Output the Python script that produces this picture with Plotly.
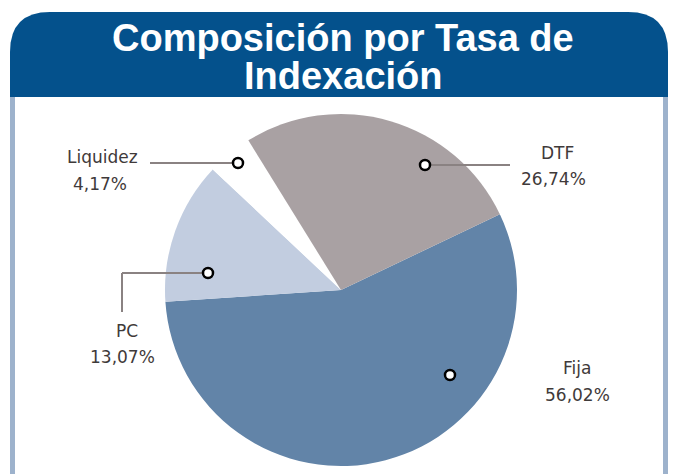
import plotly.graph_objects as go

# ---- data ----
categories = ["Fija", "PC", "Liquidez", "DTF"]
values = [56.02, 13.07, 4.17, 26.74]
value_labels = ["56,02%", "13,07%", "4,17%", "26,74%"]
slice_colors = ["#6284a8", "#c2cde0", "#ffffff", "#a9a1a3"]
title_lines = ["Composición por Tasa de", "Indexación"]

W, H = 678, 474

def px(x):
    return x / W

def py(y):
    return 1 - y / H

cx, cy, R = 341, 290, 176

fig = go.Figure()
fig.add_trace(go.Pie(
    labels=categories,
    values=values,
    sort=False,
    direction="clockwise",
    rotation=64.5,
    textinfo="none",
    hoverinfo="label+percent",
    marker=dict(colors=slice_colors, line=dict(width=0)),
    domain=dict(x=[px(cx - R), px(cx + R)], y=[py(cy + R), py(cy - R)]),
    showlegend=False,
))

shapes = []
bar_col = "#9db2cc"
shapes.append(dict(type="rect", xref="paper", yref="paper", x0=px(10), x1=px(15), y0=0, y1=py(96),
                   fillcolor=bar_col, line=dict(width=0), layer="below"))
shapes.append(dict(type="rect", xref="paper", yref="paper", x0=px(663), x1=px(668), y0=0, y1=py(96),
                   fillcolor=bar_col, line=dict(width=0), layer="below"))

L, Rr, T, B, rad = 10, 668, 12, 97, 40
def P(x, y):
    return f"{px(x):.5f},{py(y):.5f}"
path = (f"M {P(L, B)} L {P(L, T + rad)} Q {P(L, T)} {P(L + rad, T)} "
        f"L {P(Rr - rad, T)} Q {P(Rr, T)} {P(Rr, T + rad)} L {P(Rr, B)} Z")
shapes.append(dict(type="path", xref="paper", yref="paper", path=path,
                   fillcolor="#04518c", line=dict(width=0), layer="below"))

line_col = "#8a8282"
def seg(x0, y0, x1, y1):
    shapes.append(dict(type="line", xref="paper", yref="paper", x0=px(x0), y0=py(y0), x1=px(x1), y1=py(y1),
                       line=dict(color=line_col, width=2)))

seg(150, 163, 232, 163)   # Liquidez
seg(431, 165, 510, 165)   # DTF
seg(202, 273, 122, 273)   # PC horizontal
seg(122, 273, 122, 312)   # PC vertical

for (x, y) in [(238, 163), (425, 165), (208, 273), (450, 375)]:
    r = 5
    shapes.append(dict(type="circle", xref="paper", yref="paper", x0=px(x - r), x1=px(x + r),
                       y0=py(y + r), y1=py(y - r), fillcolor="white", line=dict(color="black", width=2.5)))

title_font = dict(family="Liberation Sans, Arial", size=38, color="white")
annotations = [
    dict(text=f"<b>{title_lines[0]}</b>", x=px(343), y=py(38), xref="paper", yref="paper",
         showarrow=False, font=title_font, xanchor="center", yanchor="middle"),
    dict(text=f"<b>{title_lines[1]}</b>", x=px(343), y=py(76), xref="paper", yref="paper",
         showarrow=False, font=title_font, xanchor="center", yanchor="middle"),
]

label_pos = {
    "Liquidez": ((102, 157), (100, 184)),
    "DTF": ((557, 153), (553, 179)),
    "PC": ((127, 331), (122, 357)),
    "Fija": ((577, 368), (577, 395)),
}
lab_font = dict(family="DejaVu Sans, Verdana", size=17, color="#3f3a3a")
for cat, lab in zip(categories, value_labels):
    (x1, y1), (x2, y2) = label_pos[cat]
    annotations.append(dict(text=cat, x=px(x1), y=py(y1), xref="paper", yref="paper",
                            showarrow=False, font=lab_font, xanchor="center", yanchor="middle"))
    annotations.append(dict(text=lab, x=px(x2), y=py(y2), xref="paper", yref="paper",
                            showarrow=False, font=lab_font, xanchor="center", yanchor="middle"))

fig.update_layout(
    width=W, height=H,
    margin=dict(l=0, r=0, t=0, b=0),
    paper_bgcolor="white",
    plot_bgcolor="white",
    shapes=shapes,
    annotations=annotations,
)

fig.write_html("out.html", config={"displayModeBar": False},
               post_script="document.body.style.margin='0';document.body.style.overflow='hidden';")
